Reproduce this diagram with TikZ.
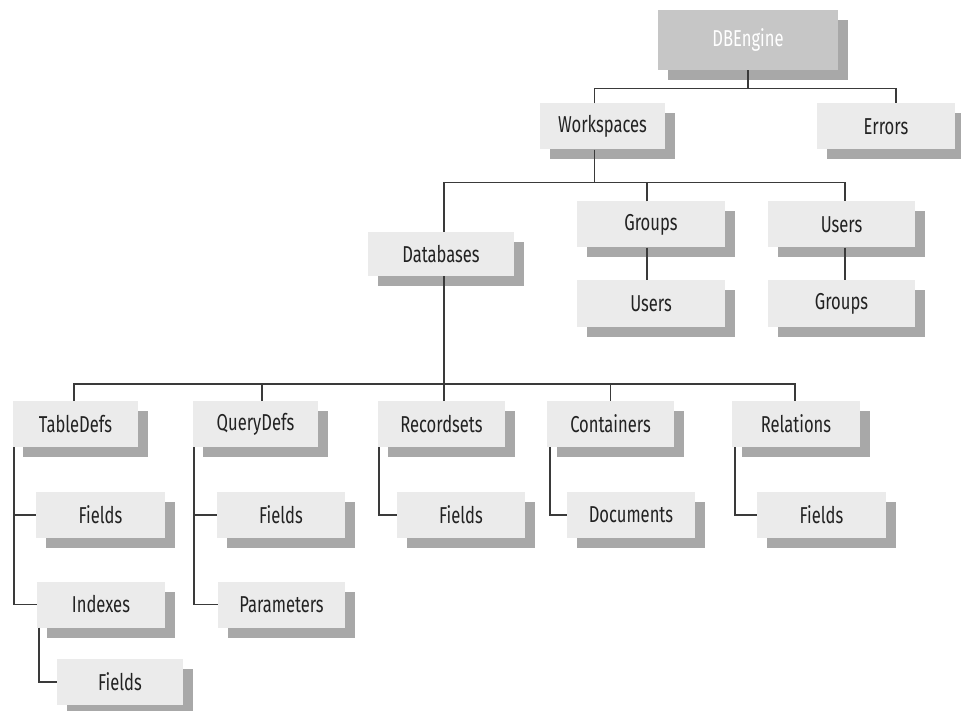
\documentclass[tikz,border=0pt]{standalone}
\usepackage{fontspec}
\setmainfont{Fira Sans}[FakeStretch=0.72]
\usepackage{tikz}
\usetikzlibrary{shadows}
\definecolor{boxgray}{HTML}{EBEBEB}
\definecolor{topgray}{HTML}{C6C6C6}
\definecolor{shadegray}{HTML}{A8A8A8}
\definecolor{linegray}{HTML}{3A3A3A}
\definecolor{textgray}{HTML}{222222}

\begin{document}
\begin{tikzpicture}[
  x=1pt, y=-1pt,
  box/.style={fill=boxgray, minimum height=46, minimum width=127, inner sep=0pt,
    text=textgray, font=\fontsize{23}{26}\selectfont,
    drop shadow={shadow xshift=10pt, shadow yshift=-10pt, fill=shadegray, opacity=1}},
  topbox/.style={box, fill=topgray, text=white, minimum height=60},
  link/.style={draw=linegray, line width=1.4pt},
]
\useasboundingbox (0,0) rectangle (961,711);

%% Top: engine, workspaces, errors
\node[topbox, minimum width=180] (dbe) at (748,40) {DBEngine};
\node[box, minimum width=125] (ws) at (602.5,126.5) {Workspaces};
\node[box, minimum width=138] (err) at (886,126.5) {Errors};

%% Under workspaces
\node[box, minimum width=146, minimum height=44] (dbs) at (441,254) {Databases};
\node[box, minimum width=148] (grp) at (651,224.5) {Groups};
\node[box, minimum width=147] (usr) at (841.5,224.5) {Users};
\node[box, minimum width=148] (grpusr) at (651,303.5) {Users};
\node[box, minimum width=147] (usrgrp) at (841.5,303.5) {Groups};

%% Collections of a database
\node[box, minimum width=125] (td) at (75.5,424) {TableDefs};
\node[box, minimum width=125] (qd) at (255.5,424) {QueryDefs};
\node[box] (rs) at (441.5,424) {Recordsets};
\node[box] (cont) at (610.5,424) {Containers};
\node[box, minimum width=128] (rel) at (796,424) {Relations};

%% Their members
\node[box, minimum width=129] (tdf) at (100.5,515) {Fields};
\node[box, minimum width=128] (qdf) at (281,515) {Fields};
\node[box, minimum width=128] (rsf) at (461,515) {Fields};
\node[box, minimum width=128] (doc) at (631,515) {Documents};
\node[box, minimum width=129] (relf) at (821.5,515) {Fields};
\node[box, minimum width=128] (idx) at (101,604.5) {Indexes};
\node[box] (par) at (281.5,604.5) {Parameters};
\node[box, minimum width=126] (idxf) at (120,682) {Fields};

%% Connectors
\draw[link] (dbe.south) -- ++(0,18);
\draw[link] ([xshift=-8]ws.north) -- ++(0,-15) -| ([xshift=10]err.north);
\draw[link] ([xshift=-8]ws.south) -- ++(0,33);
\draw[link] ([xshift=3]dbs.north) -- ++(0,-49) -| ([xshift=3.5]usr.north);
\draw[link] ([xshift=-4]grp.north) -- ++(0,-19);
\draw[link] ([xshift=-4]grp.south) -- ([xshift=-4]grp.south |- grpusr.north);
\draw[link] ([xshift=3.5]usr.south) -- ([xshift=3.5]usr.south |- usrgrp.north);

\draw[link] ([xshift=-1.5]td.north) -- ++(0,-17) -| ([xshift=-1]rel.north);
\draw[link] ([xshift=6.5]qd.north) -- ++(0,-17);
\draw[link] ([xshift=3]dbs.south) -- ([xshift=3]dbs.south |- rs.north);
\draw[link] (cont.north) -- ++(0,-17);

\draw[link] ([xshift=1]td.south west) |- (tdf.west);
\draw[link] ([xshift=1]td.south west) |- (idx.west);
\draw[link] ([xshift=2]idx.south west) |- (idxf.west);
\draw[link] ([xshift=1]qd.south west) |- (qdf.west);
\draw[link] ([xshift=1]qd.south west) |- (par.west);
\draw[link] ([xshift=1]rs.south west) |- (rsf.west);
\draw[link] ([xshift=3]cont.south west) |- (doc.west);
\draw[link] ([xshift=3]rel.south west) |- (relf.west);

\end{tikzpicture}
\end{document}
